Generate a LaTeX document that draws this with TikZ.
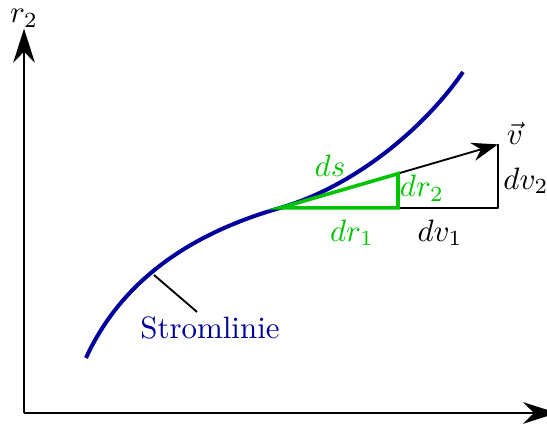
\documentclass[tikz,border=0pt]{standalone}
\usepackage{amsmath}
\usepackage{tikz}
\usetikzlibrary{arrows.meta}
\definecolor{Strom}{HTML}{00009C}
\definecolor{Diff}{HTML}{00C400}
\tikzset{
  axis/.style={-{Stealth[length=11pt,width=7pt]},line width=0.65pt,draw=black},
  vec/.style={-{Stealth[length=8.5pt,width=6pt]},line width=0.6pt,draw=black},
  leg/.style={line width=0.6pt,draw=black},
  tri/.style={draw=Diff,line width=1.15pt,line join=miter},
  curve/.style={draw=Strom,line width=1.3pt},
  glbl/.style={text=Diff,font=\normalsize},
  klbl/.style={text=black,font=\normalsize},
}
\begin{document}
\begin{tikzpicture}[x=1cm,y=1cm,line join=round]
\useasboundingbox (0,0) rectangle (6.216,4.886);
\coordinate (O) at (0.273,0.193); \coordinate (xtip) at (6.33,0.193);
\coordinate (ytip) at (0.273,4.56);
\coordinate (A) at (0.977,0.818); \coordinate (P) at (3.182,2.523);
\coordinate (E) at (5.261,4.068);
\coordinate (Q) at (4.523,2.523); \coordinate (R) at (4.523,2.912);
\coordinate (W) at (5.659,2.523); \coordinate (V) at (5.659,3.245);
\coordinate (lead) at (1.75,1.761); \coordinate (leadend) at (2.239,1.341);
% axes
\draw[axis] (O) -- (xtip);
\draw[axis] (O) -- (ytip);
\node[klbl,inner sep=1pt] (r2) at (0.273,4.68) {$r_2$};
% streamline
\draw[curve] (A) .. controls (1.45,1.85) and (2.4,2.298) .. (P)
  .. controls (4.0,2.759) and (4.8,3.4) .. (E);
\draw[leg] (lead) -- (leadend);
\node[text=Strom,font=\normalsize] (strom) at (2.386,1.159) {Stromlinie};
% velocity
\draw[leg] (Q) -- (W) -- (V);
\draw[vec] (P) -- (V);
\draw[tri] (P) -- (Q) -- (R) -- cycle;
% labels
\node[glbl] (ds) at (3.75,3.0) {$ds$};
\node[glbl] (dr2) at (4.795,2.75) {$dr_2$};
\node[glbl] (dr1) at (4.0,2.239) {$dr_1$};
\node[klbl] (dv1) at (5.0,2.239) {$dv_1$};
\node[klbl] (dv2) at (5.977,2.83) {$dv_2$};
\node[klbl] (v) at (5.852,3.375) {$\vec{v}$};
\end{tikzpicture}
\end{document}
